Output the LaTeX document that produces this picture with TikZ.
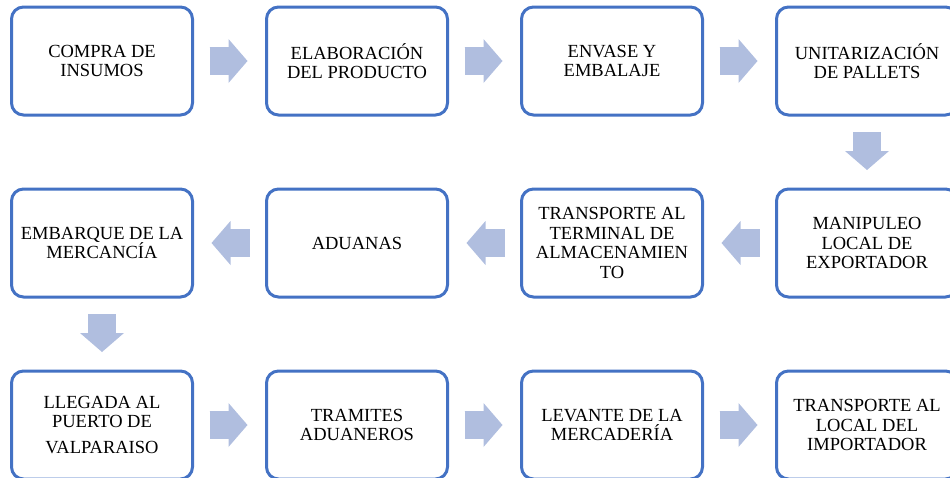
\documentclass[tikz,border=0pt]{standalone}
\usepackage{fontspec}
\setmainfont{Liberation Serif}
\usetikzlibrary{positioning, arrows.meta}
\definecolor{boxblue}{HTML}{4472C4}
\definecolor{flowblue}{HTML}{B0BEDF}
\tikzset{
x=1pt, y=-1pt, % one unit is one pixel of the reference
node distance=74pt, % gap between two neighbouring boxes
stage/.style={draw=boxblue, line width=3pt, rounded corners=12pt, fill=white,
  minimum width=181pt, minimum height=108pt, outer sep=0pt, align=center,
  font=\fontsize{18.5}{19.5}\selectfont}, % sets the look of each box
flow/.style={draw=flowblue, line width=28pt,
  -{Triangle[length=19pt, width=44pt, line width=0pt]},
  shorten <=17pt, shorten >=19pt,
  preaction={draw=flowblue, line width=28pt, -, shorten <=17pt, shorten >=33pt}}, % the thick block arrows
}
\begin{document}
\begin{tikzpicture}
        \useasboundingbox (0,0) rectangle (950,477);
        % first row, left to right
        \node[stage] (compra) at (102,61) {COMPRA DE\\INSUMOS};
        \node[stage, right=of compra] (elab) {ELABORACIÓN\\DEL PRODUCTO};
        \node[stage, right=of elab] (envase) {ENVASE Y\\EMBALAJE};
        \node[stage, right=of envase] (unit) {UNITARIZACIÓN\\DE PALLETS};
        % second row, right to left
        \node[stage, below=of unit] (manip) {MANIPULEO\\LOCAL DE\\EXPORTADOR};
        \node[stage, left=of manip] (transp) {TRANSPORTE AL\\TERMINAL DE\\ALMACENAMIEN\\TO};
        \node[stage, left=of transp] (aduanas) {ADUANAS};
        \node[stage, left=of aduanas] (embarque) {EMBARQUE DE LA\\MERCANCÍA};
        % third row, left to right
        \node[stage, below=of embarque] (llegada) {LLEGADA AL\\PUERTO DE\\[6pt]VALPARAISO};
        \node[stage, right=of llegada] (tramites) {TRAMITES\\ADUANEROS};
        \node[stage, right=of tramites] (levante) {LEVANTE DE LA\\MERCADERÍA};
        \node[stage, right=of levante] (importador) {TRANSPORTE AL\\LOCAL DEL\\IMPORTADOR};

        \draw[flow] (compra.east) -- (elab.west);
        \draw[flow] (elab.east) -- (envase.west);
        \draw[flow] (envase.east) -- (unit.west);
        \draw[flow] (unit.south) -- (manip.north);
        \draw[flow] (manip.west) -- (transp.east);
        \draw[flow] (transp.west) -- (aduanas.east);
        \draw[flow] (aduanas.west) -- (embarque.east);
        \draw[flow] (embarque.south) -- (llegada.north);
        \draw[flow] (llegada.east) -- (tramites.west);
        \draw[flow] (tramites.east) -- (levante.west);
        \draw[flow] (levante.east) -- (importador.west);
    \end{tikzpicture}
\end{document}
